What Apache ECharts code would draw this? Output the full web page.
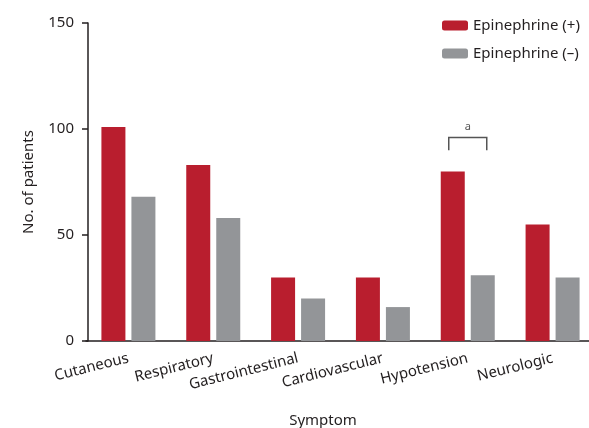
<!DOCTYPE html>
<html>
<head>
<meta charset="utf-8">
<script src="https://cdn.jsdelivr.net/npm/echarts@6/dist/echarts.min.js"></script>
<style>
  html, body { margin: 0; padding: 0; background: #fff; }
  #chart { width: 589px; height: 428px; }
</style>
</head>
<body>
<div id="chart"></div>
<script>
// categories and values
const symptoms = ['Cutaneous', 'Respiratory', 'Gastrointestinal', 'Cardiovascular', 'Hypotension', 'Neurologic']
const epiPlus = [101, 83, 30, 30, 80, 55]
const epiMinus = [68, 58, 20, 16, 31, 30]
const yTicks = [0, 50, 100, 150]
// significance bracket: category index, top value, foot value, label
const bracket = [[4, 96, 90, 'a']]

const font = '"Noto Sans", sans-serif'
const textColor = '#231f20'

const chart = echarts.init(document.getElementById('chart'))

const options = {
  animation: false,
  textStyle: { fontFamily: font },
  legend: {
    orient: 'vertical',
    left: 437,
    top: 13,
    itemWidth: 26,
    itemHeight: 10,
    itemGap: 13,
    data: ['Epinephrine (+)', 'Epinephrine (\u2013)'],
    textStyle: { fontSize: 15, color: textColor, fontFamily: font }
  },
  grid: {
    left: 86,
    top: 23,
    width: 509,
    bottom: 87,
    outerBoundsMode: 'none',
    containLabel: false
  },
  xAxis: {
    type: 'category',
    data: symptoms,
    name: 'Symptom',
    nameLocation: 'middle',
    nameGap: 72,
    nameTextStyle: { fontSize: 15, color: textColor, padding: [0, 35, 0, 0] },
    axisLine: { lineStyle: { color: textColor, width: 1.5 } },
    axisTick: { alignWithLabel: true, length: 7, lineStyle: { color: textColor, width: 1.5 } },
    axisLabel: { rotate: 14, fontSize: 15, color: textColor, margin: 17, interval: 0 }
  },
  yAxis: {
    type: 'value',
    min: 0,
    max: 150,
    interval: 50,
    offset: -2,
    name: 'No. of patients',
    nameLocation: 'middle',
    nameGap: 52,
    nameTextStyle: { fontSize: 15, color: textColor },
    splitLine: { show: false },
    axisLine: { show: true, lineStyle: { color: textColor, width: 1.5 } },
    axisTick: { show: true, length: 6, lineStyle: { color: textColor, width: 1.5 } },
    axisLabel: {
      fontSize: 15,
      color: textColor,
      margin: 14,
      formatter: (v) => (yTicks.includes(v) ? String(v) : '')
    }
  },
  series: [
    {
      name: 'Epinephrine (+)',
      type: 'bar',
      data: epiPlus,
      barWidth: 24,
      barGap: '25%',
      itemStyle: { color: '#b91e2e' }
    },
    {
      name: 'Epinephrine (\u2013)',
      type: 'bar',
      data: epiMinus,
      barWidth: 24,
      itemStyle: { color: '#939598' }
    },
    {
      type: 'custom',
      silent: true,
      data: bracket,
      encode: { x: 0, y: 1 },
      renderItem: (params, api) => {
        const top = api.coord([api.value(0), api.value(1)])
        const foot = api.coord([api.value(0), api.value(2)])
        const half = 19
        const x0 = top[0] - half
        const x1 = top[0] + half
        return {
          type: 'group',
          children: [
            {
              type: 'polyline',
              shape: { points: [[x0, foot[1]], [x0, top[1]], [x1, top[1]], [x1, foot[1]]] },
              style: { stroke: '#555', lineWidth: 1.5, fill: null }
            },
            {
              type: 'text',
              style: {
                text: bracket[params.dataIndex][3],
                x: top[0],
                y: top[1] - 5,
                align: 'center',
                verticalAlign: 'bottom',
                fontSize: 11,
                fontFamily: font,
                fill: '#555'
              }
            }
          ]
        }
      }
    }
  ]
}

chart.setOption(options)
</script>
</body>
</html>
